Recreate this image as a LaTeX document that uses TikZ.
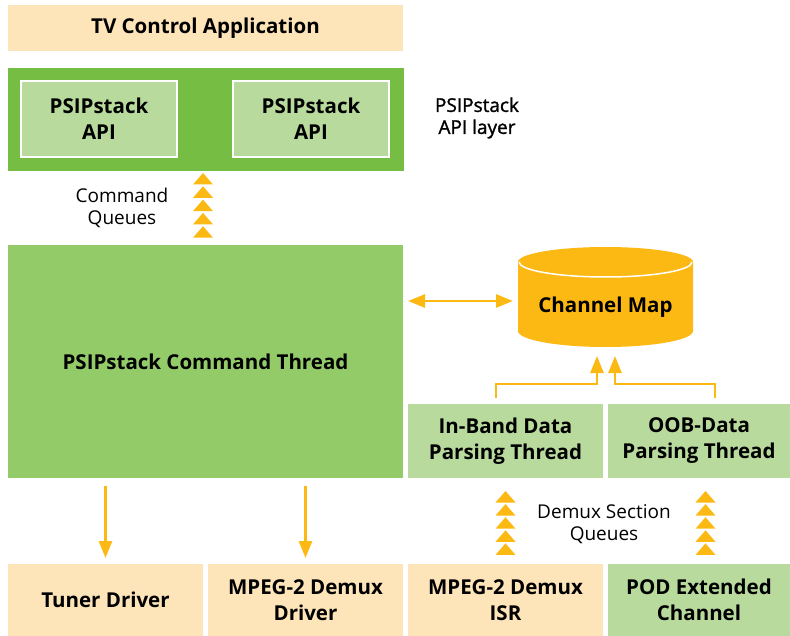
\documentclass[tikz,border=0pt]{standalone}
\usepackage{fontspec}
\setmainfont{Open Sans}
\newfontfamily\semib[FakeBold=1.3]{Open Sans}
\usetikzlibrary{arrows.meta}
\definecolor{peach}{HTML}{FDE4B9}
\definecolor{dgreen}{HTML}{76BE43}
\definecolor{mgreen}{HTML}{93CB69}
\definecolor{lgreen}{HTML}{B8DA9D}
\definecolor{gold}{HTML}{FDB913}
\begin{document}
\begin{tikzpicture}[x=1pt,y=-1pt,
  box/.style={anchor=north west, inner sep=0pt, outer sep=0pt, align=center,
    font=\bfseries\fontsize{20.5}{26}\selectfont},
  lbl/.style={align=center, inner sep=0pt, font=\fontsize{19}{22}\selectfont},
  arr/.style={draw=gold, line width=2.6pt, -{Triangle[width=13pt,length=17pt]}},
  elbow/.style={draw=gold, line width=2.6pt, -{Triangle[width=13pt,length=17pt]}},
  chev/.style={fill=gold}]
\useasboundingbox (0,0) rectangle (790,636);
% top
\node[box, fill=peach, minimum width=395pt, minimum height=46pt] (tv) at (8,5) {TV Control Application};
\node[box, fill=dgreen, minimum width=396pt, minimum height=103pt] (apil) at (8,68) {};
\node[box, fill=lgreen, draw=white, line width=2pt, minimum width=156pt, minimum height=76pt] (api1) at (21,81) {PSIPstack\\API};
\node[box, fill=lgreen, draw=white, line width=2pt, minimum width=156pt, minimum height=76pt] (api2) at (233,81) {PSIPstack\\API};
\node[lbl, font=\semib\fontsize{19}{22}\selectfont] (apilabel) at (477,118) {PSIPstack\\API layer};
% command queues
\node[lbl] (cq) at (122,208) {Command\\Queues};
\foreach \i in {0,...,4}{
  \fill[chev] (193,{173+13.3*\i+11.5}) -- (213,{173+13.3*\i+11.5}) -- (203,{173+13.3*\i}) -- cycle;
}
% command thread
\node[box, fill=mgreen, minimum width=395pt, minimum height=233pt] (thread) at (8,245) {PSIPstack Command Thread};
% channel map
\fill[gold] (518,262) -- (518,331) arc[start angle=180, end angle=0, x radius=87.5, y radius=16] -- (693,262) arc[start angle=0, end angle=-180, x radius=87.5, y radius=15] -- cycle;
\draw[white, line width=1.5pt] (519,262) arc[start angle=180, end angle=0, x radius=86.5, y radius=15];
\node[anchor=north west, inner sep=0pt, outer sep=0pt, minimum width=175pt, minimum height=102pt] (cm) at (518,245) {};
\node[font=\bfseries\fontsize{20.5}{26}\selectfont, inner sep=0pt] (cmtext) at (605.5,307) {Channel Map};
% parsing threads
\node[box, fill=lgreen, minimum width=195pt, minimum height=74pt] (ib) at (408,404) {In-Band Data\\Parsing Thread};
\node[box, fill=lgreen, minimum width=182pt, minimum height=74pt] (oob) at (608,404) {OOB-Data\\Parsing Thread};
% bottom row
\node[box, fill=peach, minimum width=195pt, minimum height=72pt] (tuner) at (8,564) {Tuner Driver};
\node[box, fill=peach, minimum width=195pt, minimum height=72pt] (mdd) at (208,564) {MPEG-2 Demux\\Driver};
\node[box, fill=peach, minimum width=195pt, minimum height=72pt] (isr) at (408,564) {MPEG-2 Demux\\ISR};
\node[box, fill=lgreen, minimum width=182pt, minimum height=72pt] (pod) at (608,564) {POD Extended\\Channel};
% demux queues
\node[lbl] (dsq) at (604,524) {Demux Section\\Queues};
\foreach \cx in {505.5,705.5}{
  \foreach \i in {0,...,4}{
    \fill[chev] ({\cx-10},{491+13.1*\i+11.5}) -- ({\cx+10},{491+13.1*\i+11.5}) -- (\cx,{491+13.1*\i}) -- cycle;
  }
}
% arrows
\coordinate (dr) at (513,301);
\draw[draw=gold, line width=2.6pt, {Triangle[width=13pt,length=17pt]}-{Triangle[width=13pt,length=17pt]}] ([xshift=5pt]thread.east |- dr) -- (dr);
\draw[arr] ([yshift=-8pt]thread.south -| tuner.north) -- ([yshift=6pt]tuner.north);
\draw[arr] ([yshift=-8pt]thread.south -| mdd.north) -- ([yshift=6pt]mdd.north);
\draw[elbow] ([xshift=-9.5pt,yshift=6pt]ib.north) -- ++(0,-14) -| ([xshift=-8.5pt,yshift=-9pt]cm.south);
\draw[elbow] ([xshift=16pt,yshift=6pt]oob.north) -- ++(0,-14) -| ([xshift=9.5pt,yshift=-9pt]cm.south);
\end{tikzpicture}
\end{document}
